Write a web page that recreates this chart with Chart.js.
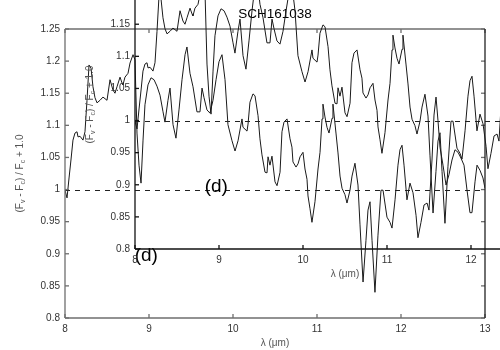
<!DOCTYPE html>
<html>
<head>
<meta charset="utf-8">
<script src="https://cdn.jsdelivr.net/npm/chart.js@4.4.0/dist/chart.umd.min.js"></script>
<style>
  html, body { margin: 0; padding: 0; background: #fff; }
  #wrap { position: relative; width: 500px; height: 350px; overflow: hidden; }
  #wrap canvas { position: absolute; }
  #back { left: 0; top: 0; }
  #front { left: 70px; top: -69px; }
</style>
</head>
<body>
<div id="wrap">
  <canvas id="back" width="500" height="350"></canvas>
  <canvas id="front" width="500" height="350"></canvas>
</div>
<script>
// spectrum (same curve drawn in both panels)
const wavelength = [
  8.000, 8.024, 8.048, 8.071, 8.095, 8.119, 8.143, 8.155, 8.179, 8.214, 8.238, 8.262, 8.286, 8.310, 8.333, 8.357,
  8.381, 8.417, 8.452, 8.500, 8.536, 8.571, 8.595, 8.619, 8.655, 8.679, 8.690, 8.714, 8.750, 8.774, 8.810, 8.833,
  8.857, 8.881, 8.905, 8.929, 8.952, 8.988, 9.024, 9.060, 9.095, 9.131, 9.167, 9.190, 9.226, 9.250, 9.286, 9.321,
  9.357, 9.393, 9.429, 9.452, 9.488, 9.524, 9.571, 9.607, 9.631, 9.655, 9.690, 9.726, 9.762, 9.798, 9.833, 9.869,
  9.905, 9.940, 9.988, 10.024, 10.060, 10.107, 10.119, 10.167, 10.179, 10.202, 10.238, 10.262, 10.298, 10.321, 10.345, 10.381,
  10.405, 10.417, 10.440, 10.464, 10.500, 10.524, 10.560, 10.583, 10.607, 10.643, 10.679, 10.702, 10.714, 10.750, 10.774, 10.798,
  10.833, 10.857, 10.881, 10.893, 10.917, 10.940, 10.976, 11.012, 11.036, 11.060, 11.071, 11.095, 11.119, 11.143, 11.179, 11.190,
  11.226, 11.250, 11.274, 11.298, 11.333, 11.357, 11.393, 11.417, 11.452, 11.488, 11.512, 11.548, 11.583, 11.607, 11.631, 11.655,
  11.690, 11.726, 11.762, 11.786, 11.833, 11.869, 11.893, 11.929, 11.964, 11.988, 12.012, 12.036, 12.071, 12.107, 12.143, 12.179,
  12.202, 12.238, 12.274, 12.310, 12.333, 12.369, 12.393, 12.417, 12.440, 12.464, 12.500, 12.536, 12.571, 12.607, 12.643, 12.679,
  12.714, 12.750, 12.786, 12.821, 12.845, 12.881, 12.905, 12.940, 12.976, 13.000
];
const flux = [
  0.999, 0.987, 1.018, 1.046, 1.077, 1.088, 1.090, 1.082, 1.083, 1.077, 1.090, 1.139, 1.194, 1.189, 1.160, 1.143,
  1.135, 1.139, 1.144, 1.139, 1.171, 1.155, 1.150, 1.160, 1.175, 1.166, 1.163, 1.175, 1.181, 1.197, 1.210, 1.202,
  1.088, 1.038, 1.010, 1.077, 1.132, 1.163, 1.174, 1.171, 1.161, 1.147, 1.121, 1.105, 1.139, 1.158, 1.101, 1.080,
  1.124, 1.171, 1.210, 1.222, 1.181, 1.160, 1.121, 1.121, 1.158, 1.143, 1.124, 1.119, 1.139, 1.171, 1.199, 1.210,
  1.171, 1.101, 1.076, 1.060, 1.076, 1.110, 1.097, 1.091, 1.102, 1.136, 1.149, 1.146, 1.115, 1.079, 1.054, 1.027,
  1.026, 1.051, 1.038, 1.052, 1.012, 1.006, 1.027, 1.090, 1.105, 1.110, 1.079, 1.066, 1.043, 1.035, 1.040, 1.051,
  1.058, 1.032, 1.016, 0.990, 0.970, 0.949, 0.981, 1.032, 1.058, 1.110, 1.133, 1.113, 1.097, 1.088, 1.111, 1.133,
  1.088, 1.057, 1.021, 1.002, 0.992, 0.979, 0.999, 1.021, 1.041, 1.007, 0.945, 0.856, 0.921, 0.968, 0.981, 0.921,
  0.840, 0.929, 0.999, 0.999, 0.957, 0.949, 0.940, 0.984, 1.038, 1.062, 1.069, 1.038, 0.984, 1.010, 0.995, 0.960,
  0.925, 0.949, 0.976, 0.979, 0.968, 1.046, 1.116, 1.144, 1.108, 1.066, 1.038, 1.007, 1.023, 1.046, 1.062, 1.058,
  1.049, 1.038, 0.999, 0.964, 0.964, 1.012, 1.038, 1.030, 1.018, 1.002
];
const xTicks = [8, 9, 10, 11, 12, 13];
const yTicks = [0.8, 0.85, 0.9, 0.95, 1, 1.05, 1.1, 1.15, 1.2, 1.25];
const continuum = 1.0;
const titleText = 'SCH161038';
const xTitle = 'λ (μm)';
// [text, isSubscript]
const yTitle = [['(F', 0], ['v', 1], [' - F', 0], ['c', 1], [') / F', 0], ['c', 1], [' + 1.0', 0]];
const panelLabel = '(d)';
const panelLabelAt = [8.83, 0.897];

const FONT = '"Liberation Sans", Arial, Helvetica, sans-serif';

function decorations(axisColor, rightColor) {
  return {
    id: 'decorations',
    beforeDatasetsDraw(chart) {
      const { ctx, chartArea: a, scales: { y } } = chart;
      const yc = Math.round(y.getPixelForValue(continuum)) + 0.5;
      ctx.save();
      ctx.strokeStyle = '#222';
      ctx.lineWidth = 1;
      ctx.setLineDash([5, 5]);
      ctx.beginPath();
      ctx.moveTo(a.left, yc);
      ctx.lineTo(a.right, yc);
      ctx.stroke();
      ctx.restore();
    },
    afterDraw(chart) {
      const { ctx, chartArea: a, scales: { x, y } } = chart;
      const seg = (x1, y1, x2, y2) => {
        ctx.beginPath();
        ctx.moveTo(x1, y1);
        ctx.lineTo(x2, y2);
        ctx.stroke();
      };
      ctx.save();
      ctx.lineWidth = 1.3;
      ctx.strokeStyle = axisColor;
      seg(a.left, a.top, a.left, a.bottom);
      seg(a.left, a.bottom, a.right, a.bottom);
      seg(a.left, a.top, a.right, a.top);
      xTicks.forEach(v => {
        const px = x.getPixelForValue(v);
        seg(px, a.bottom, px, a.bottom - 4);
        seg(px, a.top, px, a.top + 4);
      });
      yTicks.forEach(v => {
        const py = y.getPixelForValue(v);
        seg(a.left, py, a.left + 4, py);
        seg(a.right, py, a.right - 4, py);
      });
      ctx.strokeStyle = rightColor;
      seg(a.right, a.top, a.right, a.bottom);

      // title
      ctx.fillStyle = '#000';
      ctx.textAlign = 'center';
      ctx.textBaseline = 'middle';
      ctx.font = '13.5px ' + FONT;
      ctx.fillText(titleText, (a.left + a.right) / 2, a.top - 15);

      // x title
      ctx.fillStyle = '#555';
      ctx.font = '10px ' + FONT;
      ctx.fillText(xTitle, (a.left + a.right) / 2, a.bottom + 25);

      // y title with subscripts
      ctx.save();
      ctx.translate(a.left - 45, (a.top + a.bottom) / 2);
      ctx.rotate(-Math.PI / 2);
      ctx.textAlign = 'left';
      let total = 0;
      yTitle.forEach(([t, sub]) => {
        ctx.font = (sub ? '7px ' : '10px ') + FONT;
        total += ctx.measureText(t).width;
      });
      let pos = -total / 2;
      yTitle.forEach(([t, sub]) => {
        ctx.font = (sub ? '7px ' : '10px ') + FONT;
        ctx.fillText(t, pos, sub ? 3 : 0);
        pos += ctx.measureText(t).width;
      });
      ctx.restore();

      // panel label
      ctx.fillStyle = '#000';
      ctx.textAlign = 'left';
      ctx.font = '19px ' + FONT;
      ctx.fillText(panelLabel, x.getPixelForValue(panelLabelAt[0]), y.getPixelForValue(panelLabelAt[1]));
      ctx.restore();
    }
  };
}

function makeChart(id, axisColor, rightColor) {
  const points = wavelength.map((w, i) => ({ x: w, y: flux[i] }));
  return new Chart(document.getElementById(id), {
    type: 'line',
    data: {
      datasets: [{
        data: points,
        borderColor: '#1a1a1a',
        borderWidth: 1,
        pointRadius: 0,
        tension: 0,
        fill: false
      }]
    },
    options: {
      responsive: false,
      animation: false,
      devicePixelRatio: 1,
      layout: { padding: { left: 0, top: 29, right: 15, bottom: 0 } },
      plugins: { legend: { display: false }, tooltip: { enabled: false } },
      scales: {
        x: {
          type: 'linear',
          min: 8,
          max: 13,
          afterBuildTicks: s => { s.ticks = xTicks.map(v => ({ value: v })); },
          afterFit: s => { s.height = 32; },
          grid: { display: false, drawTicks: false },
          border: { display: false },
          ticks: {
            padding: 5,
            maxRotation: 0,
            autoSkip: false,
            color: '#333',
            font: { family: FONT, size: 10 },
            callback: v => String(+v.toFixed(2))
          }
        },
        y: {
          type: 'linear',
          min: 0.8,
          max: 1.25,
          afterBuildTicks: s => { s.ticks = yTicks.map(v => ({ value: v })); },
          afterFit: s => { s.width = 65; },
          grid: { display: false, drawTicks: false },
          border: { display: false },
          ticks: {
            padding: 5,
            autoSkip: false,
            color: '#333',
            font: { family: FONT, size: 10 },
            callback: v => String(+v.toFixed(2))
          }
        }
      }
    },
    plugins: [decorations(axisColor, rightColor)]
  });
}

makeChart('back', '#6e6e6e', '#222');
makeChart('front', '#111', '#111');
</script>
</body>
</html>
